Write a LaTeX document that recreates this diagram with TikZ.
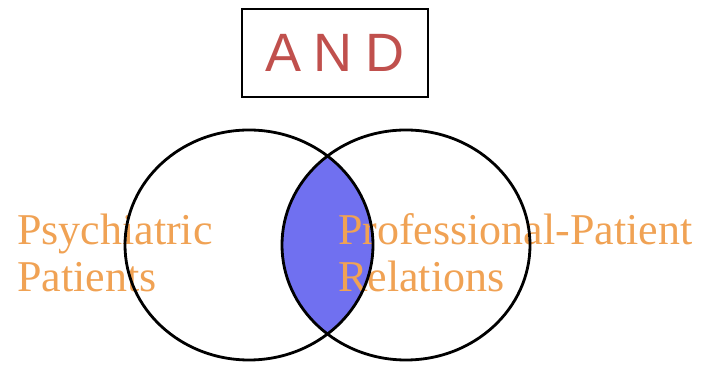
\documentclass[tikz,border=0pt]{standalone}
\usepackage{fontspec}
\setmainfont{Liberation Serif}
\newfontfamily\andfont[LetterSpace=24]{Liberation Sans}
\definecolor{andred}{RGB}{192,80,77}
\definecolor{lbl}{RGB}{240,162,84}
\definecolor{lens}{RGB}{112,112,240}
\begin{document}
\begin{tikzpicture}[x=1pt, y=1pt,
    ring/.style={line width=2.8pt, black},
    setlabel/.style={inner sep=0pt, anchor=base west, text=lbl,
      font=\fontsize{44}{47}\selectfont}]
    \useasboundingbox (0,0) rectangle (702,366);

    \coordinate (left) at (249,121);
    \coordinate (right) at (406,121);

    \node[draw, line width=1.6pt, minimum width=186pt, minimum height=88pt,
      text=andred, font=\andfont\fontsize{54}{54}\selectfont] (and) at (335,313) {AND};

    % intersection
    \begin{scope}
      \clip (left) ellipse [x radius=124, y radius=115];
      \fill[lens] (right) ellipse [x radius=124, y radius=115];
    \end{scope}

    \node[setlabel] (psych) at (17,121) {Psychiatric};
    \node[setlabel] (patients) at (17,74) {Patients};
    \node[setlabel] (prof) at (338,121) {Professional-Patient};
    \node[setlabel] (rel) at (338,74) {Relations};

    \draw[ring] (left) ellipse [x radius=124, y radius=115];
    \draw[ring] (right) ellipse [x radius=124, y radius=115];
  \end{tikzpicture}
\end{document}
